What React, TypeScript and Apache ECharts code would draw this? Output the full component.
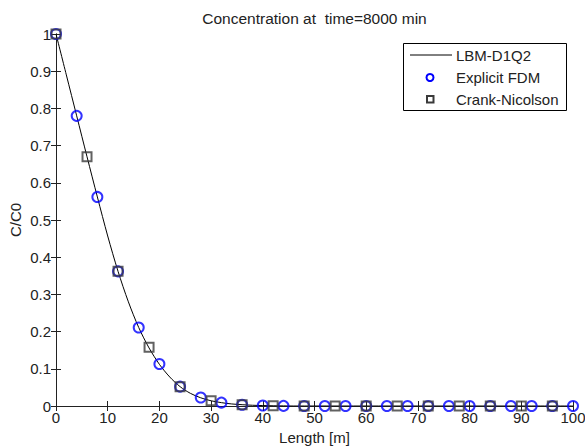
import React, { useEffect, useRef } from "react";
import * as echarts from "echarts";

const lbmX = [0, 2, 4, 6, 8, 10, 12, 14, 16, 18, 20, 22, 24, 26, 28, 30, 32, 34, 36, 38, 40, 42, 44, 46, 50, 60, 70, 80, 90, 100];
const lbmY = [1, 0.89, 0.78, 0.67, 0.562, 0.457, 0.362, 0.28, 0.211, 0.156, 0.112, 0.078, 0.052, 0.034, 0.022, 0.014, 0.009, 0.0055, 0.0035, 0.002, 0.0012, 0.0006, 0.0003, 0, 0, 0, 0, 0, 0, 0];

const fdmX = [0, 4, 8, 12, 16, 20, 24, 28, 32, 36, 40, 44, 48, 52, 56, 60, 64, 68, 72, 76, 80, 84, 88, 92, 96, 100];
const fdmY = [1, 0.78, 0.562, 0.362, 0.211, 0.113, 0.052, 0.023, 0.009, 0.0035, 0.0012, 0.0003, 0, 0, 0, 0, 0, 0, 0, 0, 0, 0, 0, 0, 0, 0];

const cnX = [0, 6, 12, 18, 24, 30, 36, 42, 48, 54, 60, 66, 72, 78, 84, 90, 96];
const cnY = [1, 0.67, 0.362, 0.158, 0.052, 0.014, 0.0035, 0.0006, 0, 0, 0, 0, 0, 0, 0, 0, 0];

const titleText = "Concentration at  time=8000 min";
const xName = "Length [m]";
const yName = "C/C0";
const legendNames = ["LBM-D1Q2", "Explicit FDM", "Crank-Nicolson"];

const FONT = "'Liberation Sans', Arial, sans-serif";
const TXT = "#222";
const AX = "#222";

export default function App() {
  const ref = useRef<HTMLDivElement>(null);
  useEffect(() => {
    document.body.style.margin = "0";
    const chart = echarts.init(ref.current!, undefined, { renderer: "svg" });
    const zip = (xs: number[], ys: number[]) => xs.map((x, i) => [x, ys[i]]);
    const axisCommon = {
      type: "value" as const,
      axisLine: { show: true, lineStyle: { color: AX, width: 1 } },
      axisTick: { show: true, inside: true, length: 5, lineStyle: { color: AX } },
      splitLine: { show: false },
    };
    chart.setOption({
      animation: false,
      backgroundColor: "#fff",
      textStyle: { fontFamily: FONT },
      title: {
        text: titleText,
        left: 314.5,
        textAlign: "center",
        top: 10,
        padding: 0,
        textStyle: { fontSize: 15.5, fontWeight: "normal", color: TXT, fontFamily: FONT },
      },
      grid: { left: 56, top: 34, width: 517, height: 372, containLabel: false, outerBoundsMode: "none" },
      xAxis: [
        {
          ...axisCommon,
          position: "bottom",
          min: 0,
          max: 100,
          interval: 10,
          name: xName,
          nameLocation: "middle",
          nameGap: 24,
          nameTextStyle: { fontSize: 15, color: TXT, fontFamily: FONT },
          axisLabel: { fontSize: 15, color: TXT, margin: 4, fontFamily: FONT },
        },
        {
          ...axisCommon,
          position: "top",
          min: 0,
          max: 100,
          interval: 10,
          axisLabel: { show: false },
        },
      ],
      yAxis: [
        {
          ...axisCommon,
          position: "left",
          min: 0,
          max: 1,
          interval: 0.1,
          name: yName,
          nameLocation: "middle",
          nameGap: 33,
          nameMoveOverlap: false,
          nameTextStyle: { fontSize: 15, color: TXT, fontFamily: FONT },
          axisLabel: { fontSize: 15, color: TXT, margin: 5, fontFamily: FONT },
        },
        {
          ...axisCommon,
          position: "right",
          min: 0,
          max: 1,
          interval: 0.1,
          axisLabel: { show: false },
        },
      ],
      series: [
        {
          name: legendNames[0],
          type: "line",
          data: zip(lbmX, lbmY),
          showSymbol: false,
          symbol: "none",
          smooth: 0.3,
          lineStyle: { color: "#000", width: 1 },
          z: 2,
        },
        {
          name: legendNames[1],
          type: "scatter",
          data: zip(fdmX, fdmY),
          symbol: "circle",
          symbolSize: 10,
          itemStyle: { color: "transparent", borderColor: "#0000ff", borderWidth: 2 },
          z: 3,
        },
        {
          name: legendNames[2],
          type: "scatter",
          data: zip(cnX, cnY),
          symbol: "rect",
          symbolSize: 9,
          itemStyle: { color: "transparent", borderColor: "#3a3a3a", borderWidth: 2 },
          z: 4,
        },
      ],
      graphic: [
        {
          type: "group",
          z: 100,
          children: [
            {
              type: "rect",
              shape: { x: 403.5, y: 43.5, width: 163, height: 67 },
              style: { fill: "#fff", stroke: "#000", lineWidth: 1 },
            },
            {
              type: "line",
              shape: { x1: 410, y1: 55, x2: 452, y2: 55 },
              style: { stroke: "#000", lineWidth: 1 },
            },
            {
              type: "text",
              x: 456,
              y: 55,
              style: { text: legendNames[0], fontSize: 15, fill: TXT, fontFamily: FONT, verticalAlign: "middle", align: "left" },
            },
            {
              type: "circle",
              shape: { cx: 430, cy: 77.5, r: 3.5 },
              style: { fill: "none", stroke: "#0000ff", lineWidth: 2 },
            },
            {
              type: "text",
              x: 456,
              y: 77,
              style: { text: legendNames[1], fontSize: 15, fill: TXT, fontFamily: FONT, verticalAlign: "middle", align: "left" },
            },
            {
              type: "rect",
              shape: { x: 427, y: 96, width: 6.5, height: 6.5 },
              style: { fill: "none", stroke: "#3a3a3a", lineWidth: 2 },
            },
            {
              type: "text",
              x: 456,
              y: 99,
              style: { text: legendNames[2], fontSize: 15, fill: TXT, fontFamily: FONT, verticalAlign: "middle", align: "left" },
            },
          ],
        },
      ],
    });
    return () => chart.dispose();
  }, []);
  return <div ref={ref} style={{ width: 585, height: 447 }} />;
}
